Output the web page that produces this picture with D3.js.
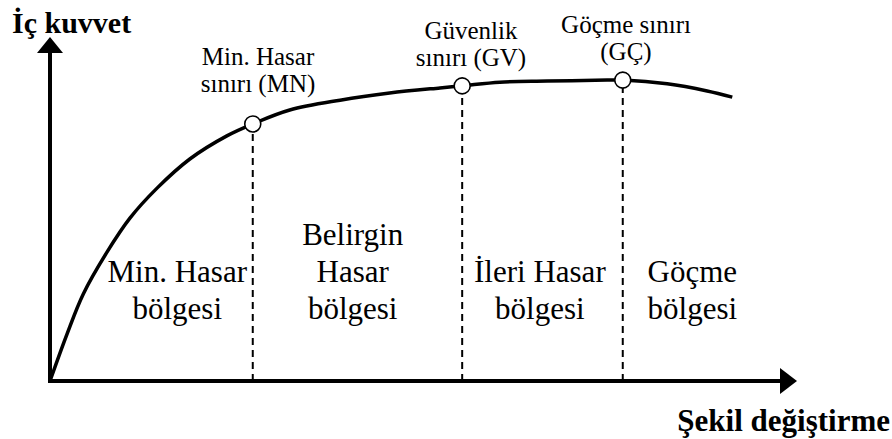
<!DOCTYPE html>
<html>
<head>
<meta charset="utf-8">
<script src="https://cdn.jsdelivr.net/npm/d3@7"></script>
<style>
  body { margin: 0; background: #fff; }
</style>
</head>
<body>
<script>
// curve of internal force vs deformation (abstract units, 0-100)
var deformation = [0, 2.3, 4.5, 7.7, 10.8, 14.5, 18.9, 23.9, 27.4, 32.4, 39.2, 45.9, 52.7, 55.7, 60.8, 67.2, 75.3, 77.4, 83.4, 88.8, 92.2];
var force       = [0, 13.8, 25.6, 37.9, 47.9, 56.8, 65.3, 72.1, 75.6, 79.7, 82.6, 84.7, 86.2, 86.8, 87.9, 88.2, 88.5, 88.5, 87.4, 85.3, 83.5];

// performance limits on the curve
var limitNames = [["Min. Hasar", "sınırı (MN)"], ["Güvenlik", "sınırı (GV)"], ["Göçme sınırı", "(GÇ)"]];
var limitX = [27.4, 55.7, 77.4];
var limitY = [75.6, 86.8, 88.5];

// damage regions
var regionNames = [["", "Min. Hasar", "bölgesi"], ["Belirgin", "Hasar", "bölgesi"], ["", "İleri Hasar", "bölgesi"], ["", "Göçme", "bölgesi"]];
var regionX = [17.2, 40.9, 66.2, 86.8];

var axisTitles = ["İç kuvvet", "Şekil değiştirme"];

var serif = "'Liberation Serif', 'Times New Roman', Times, serif";
var width = 892, height = 439;
var svg = d3.select("body").append("svg")
  .attr("width", width)
  .attr("height", height)
  .style("font-family", serif);

var x = d3.scaleLinear().domain([0, 100]).range([50, 790]);
var y = d3.scaleLinear().domain([0, 100]).range([381, 41]);

var points = deformation.map(function(d, i){ return [d, force[i]]; });

// dashed separators
svg.selectAll(".sep")
  .data(limitX)
  .enter().append("line")
  .attr("class", "sep")
  .attr("x1", function(d){ return x(d); })
  .attr("x2", function(d){ return x(d); })
  .attr("y1", y(0))
  .attr("y2", function(d, i){ return y(limitY[i]) + 8; })
  .style("stroke", "#000")
  .style("stroke-width", 2)
  .style("stroke-dasharray", "7,5");

// axes
svg.append("line")
  .attr("x1", x(0)).attr("x2", x(0))
  .attr("y1", y(0) + 2).attr("y2", 53)
  .style("stroke", "#000").style("stroke-width", 4);
svg.append("path")
  .attr("d", "M" + (x(0) - 13) + ",53 L" + x(0) + ",37 L" + (x(0) + 13) + ",53 Z")
  .style("fill", "#000");
svg.append("line")
  .attr("x1", x(0) - 2).attr("x2", 781)
  .attr("y1", y(0)).attr("y2", y(0))
  .style("stroke", "#000").style("stroke-width", 4);
svg.append("path")
  .attr("d", "M780," + (y(0) - 13) + " L797," + y(0) + " L780," + (y(0) + 13) + " Z")
  .style("fill", "#000");

// curve
var line = d3.line()
  .x(function(d){ return x(d[0]); })
  .y(function(d){ return y(d[1]); })
  .curve(d3.curveCatmullRom.alpha(0.5));
svg.append("path")
  .datum(points)
  .attr("d", line)
  .style("fill", "none")
  .style("stroke", "#000")
  .style("stroke-width", 3.5);

// limit circles
svg.selectAll(".limit")
  .data(limitX)
  .enter().append("circle")
  .attr("class", "limit")
  .attr("cx", function(d){ return x(d); })
  .attr("cy", function(d, i){ return y(limitY[i]); })
  .attr("r", 8)
  .style("fill", "#fff")
  .style("stroke", "#000")
  .style("stroke-width", 1.6);

// limit labels
var limitLabelPos = [[258, 65], [471, 39], [626, 33]];
svg.selectAll(".limitLabel")
  .data(limitNames)
  .enter().append("text")
  .attr("class", "limitLabel")
  .attr("text-anchor", "middle")
  .style("font-size", "25px")
  .each(function(d, i){
    var t = d3.select(this);
    d.forEach(function(s, j){
      t.append("tspan")
        .attr("x", limitLabelPos[i][0])
        .attr("y", limitLabelPos[i][1] + j * 27)
        .text(s);
    });
  });

// region labels
svg.selectAll(".regionLabel")
  .data(regionNames)
  .enter().append("text")
  .attr("class", "regionLabel")
  .attr("text-anchor", "middle")
  .style("font-size", "31px")
  .each(function(d, i){
    var t = d3.select(this);
    d.forEach(function(s, j){
      if (!s) return;
      t.append("tspan")
        .attr("x", x(regionX[i]))
        .attr("y", 245 + j * 37)
        .text(s);
    });
  });

// axis titles
svg.append("text")
  .attr("x", 12).attr("y", 33)
  .style("font-size", "30px").style("font-weight", "bold")
  .text(axisTitles[0]);
svg.append("text")
  .attr("x", 890).attr("y", 431)
  .attr("text-anchor", "end")
  .style("font-size", "31px").style("font-weight", "bold")
  .text(axisTitles[1]);
</script>
</body>
</html>
